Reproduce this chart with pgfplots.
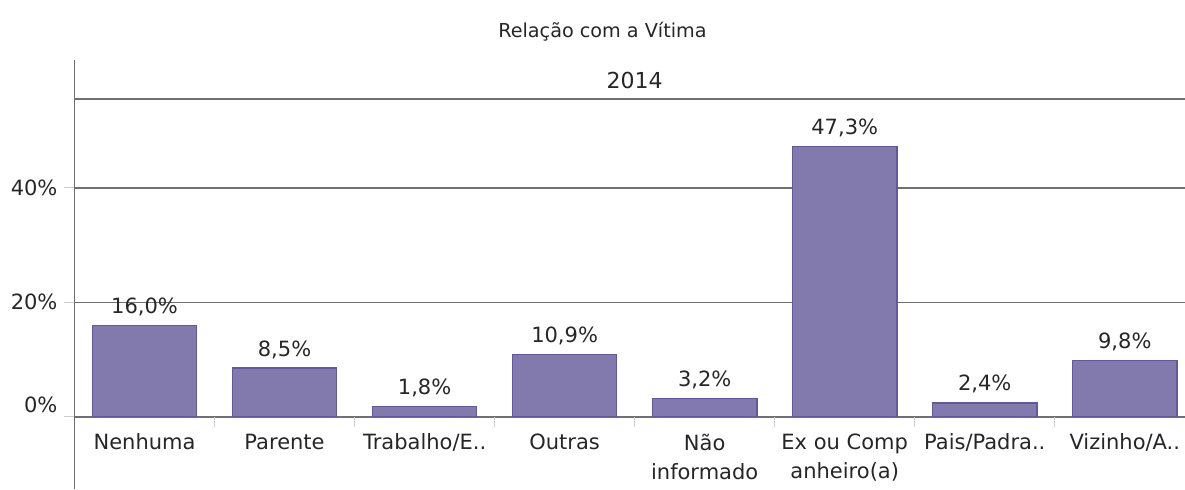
\documentclass[border=0pt]{standalone}
\usepackage{pgfplots}
\pgfplotsset{compat=1.18}
\usepackage{fontspec}
\setmainfont{DejaVu Sans}
\definecolor{barfill}{HTML}{8279AD}
\definecolor{baredge}{HTML}{6358A0}
\definecolor{txt}{HTML}{262626}
\definecolor{gridc}{HTML}{707070}
\begin{document}
\begin{tikzpicture}
\begin{axis}[
    name=ax,
    scale only axis,
    width=555.25pt, height=158.85pt,
    xmin=-0.5, xmax=7.43,
    ymin=0, ymax=55.54,
    clip=false,
    axis lines=left,
    axis line style={gridc, -, line width=0.8pt},
    ybar, bar width=0.746,
    xtick={0,...,7},
    xticklabels={Nenhuma, Parente, Trabalho/E.., Outras, Não\\informado, Ex ou Comp\\anheiro(a), Pais/Padra.., Vizinho/A..},
    xtick style={draw=none},
    xticklabel style={align=center, font=\fontsize{10.5}{14.8}\selectfont, text=txt, yshift=0pt},
    extra x ticks={0.5,1.5,2.5,3.5,4.5,5.5,6.5},
    extra x tick labels={},
    extra x tick style={xtick style={draw=black!20, line width=0.6pt}},
    ytick={0,20,40},
    yticklabels={\raisebox{6pt}[\height][\depth]{0\%}, 20\%, 40\%},
    ytick style={draw=black!20, line width=0.6pt},
    yticklabel style={font=\fontsize{10.5}{12}\selectfont, text=txt},
    major tick length=5pt,
    tick align=outside,
    ymajorgrids,
    grid style={gridc, line width=0.8pt},
    /pgf/number format/assume math mode=true,
    nodes near coords={\pgfmathprintnumber[fixed,fixed zerofill,precision=1,use comma]{\pgfplotspointmeta}\%},
    nodes near coords style={font=\fontsize{10.5}{12}\selectfont, text=txt, inner sep=1pt, yshift=3.5pt},
]
\addplot[fill=barfill, draw=baredge, line width=0.6pt] coordinates {
    (0,16.0) (1,8.5) (2,1.8) (3,10.9) (4,3.2) (5,47.3) (6,2.4) (7,9.8)
};
\draw[gridc, line width=0.8pt] (rel axis cs:0,1) -- (rel axis cs:1,1);
\node[font=\fontsize{11}{13}\selectfont, text=txt] at ([yshift=9.5pt]axis cs:3.5,55.54) {2014};
\node[font=\fontsize{9.6}{12}\selectfont, text=txt] at ([yshift=33.5pt]axis cs:3.27,55.54) {Relação com a Vítima};
\end{axis}
\draw[gridc, line width=0.8pt] (ax.north west) -- ++(0pt,19.5pt);
\draw[gridc, line width=0.8pt] (ax.south west) -- ++(0pt,-36.15pt);
\pgfresetboundingbox
\path ([xshift=-37.25pt,yshift=-36.15pt]ax.south west) rectangle ([yshift=49.5pt]ax.north east);
\end{tikzpicture}
\end{document}
